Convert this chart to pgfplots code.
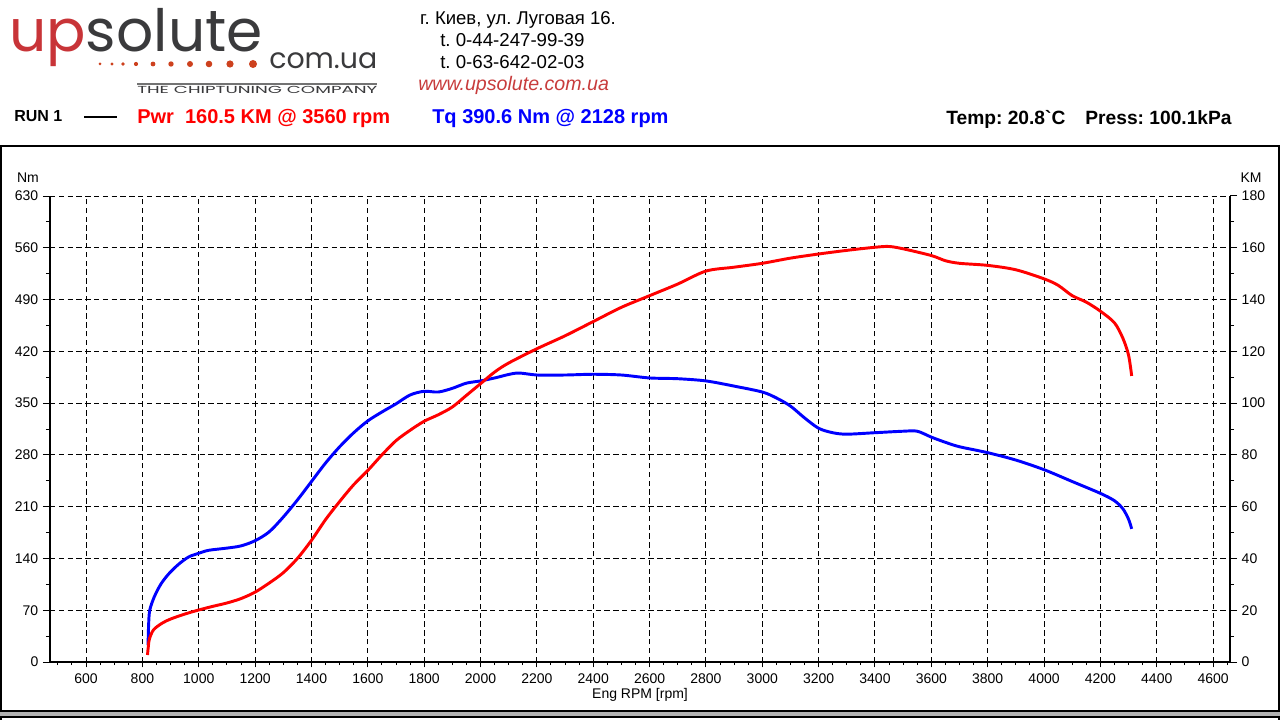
\documentclass[border=0pt]{standalone}
\usepackage{fontspec}
\setmainfont{Liberation Sans}
\newfontfamily\nomap{Liberation Sans}[Ligatures=ResetAll]
\newfontfamily\logofont{Poppins}
\usepackage{pgfplots}
\usepackage{pgfplotstable}
\pgfplotsset{compat=1.18}
\definecolor{logored}{RGB}{200,52,56}
\definecolor{logogray}{RGB}{58,58,60}
\definecolor{dotred}{RGB}{205,65,30}
\definecolor{wwwred}{RGB}{200,60,60}
\definecolor{pwrred}{RGB}{255,0,0}
\definecolor{tqblue}{RGB}{0,0,255}

\pgfplotstableread{
rpm nm
820 23
822 50
826 70
842 88
865 105
893 119
928 132
964 142
1000 147
1035 151
1100 154
1150 157
1200 164
1250 176
1300 196
1350 219
1400 244
1450 269
1500 291
1550 310
1600 326
1650 338
1700 349
1750 361
1800 366
1850 365
1900 370
1950 377
2000 380
2050 384
2128 390.6
2200 388
2300 388
2400 389
2500 388
2600 384
2700 383
2800 380
2900 373
3000 365
3050 357
3100 346
3150 330
3200 316
3250 310
3300 308
3400 310
3500 312
3550 312
3600 304
3650 297
3700 291
3800 283
3900 273
4000 260
4100 244
4200 228
4250 218
4280 207
4300 193
4311 180
}\torque

\pgfplotstableread{
rpm km
818 2.7
821 6
825 9
840 12.5
870 15
900 16.6
950 18.5
1000 20.1
1050 21.5
1100 22.8
1150 24.5
1200 27
1250 30.5
1300 34.5
1350 40
1400 47
1450 55
1500 62
1550 68.5
1600 74
1650 80
1700 85.5
1750 89.5
1800 93
1850 95.5
1900 98.5
1950 103
2000 107.5
2050 112
2100 115.5
2200 121
2300 126
2400 131.5
2500 137
2600 141.5
2700 146
2800 151
2900 152.5
3000 154
3100 156
3200 157.6
3300 159
3400 160.2
3450 160.5
3500 159.6
3600 157
3650 155
3700 154
3800 153.2
3900 151.5
4000 148
4050 145.5
4100 141.5
4150 139
4200 135.5
4250 131
4280 125
4300 118.5
4311 110.5
}\power

\pgfplotsset{dyno/.style={
  scale only axis, width=885pt, height=349.5pt,
  at={(37.5pt,-496.5pt)}, anchor=south west,
  xmin=472, xmax=4660,
  tick align=outside,
  axis line style={black, line width=0.9pt, -},
  every tick/.style={black, line width=0.75pt},
  ticklabel style={font=\fontsize{10.5}{12}\selectfont},
  /pgf/number format/assume math mode=true,
  /pgf/number format/set thousands separator={},
  grid style={black, line width=0.75pt, dash pattern=on 4pt off 2.6pt},
}}

\begin{document}
\frenchspacing
\begin{tikzpicture}
\begin{scope}[x=0.75pt,y=-0.75pt]
\useasboundingbox (0,0) rectangle (1280,720);
\fill[white] (0,0) rectangle (1280,720);
% frame
\draw[black, line width=1.2pt] (1,146) rectangle (1279,711);
\fill[black!30] (0,711.5) rectangle (1280,716);
\draw[black, line width=0.9pt] (1,720.5) -- (1,717) -- (1279,717) -- (1279,720.5);
% logo
\node[anchor=base west, inner sep=0pt] at (9,52)
  {\resizebox{190pt}{!}{\logofont\color{logored}up\color{logogray}solute}};
\node[anchor=base west, inner sep=0pt] at (269,69)
  {\resizebox{81pt}{!}{\logofont\color{logogray}com.ua}};
\foreach \xx/\rr in {100/1.5,112/1.7,123/1.9,136/2.1,153/2.4,171/2.7,190/3.0,209/3.3,230/3.6,253/4.0}
  \fill[dotred] (\xx,64) circle[radius=\rr*0.75pt];
\draw[black!55, line width=1.2pt] (137,84) -- (377,84);
\node[anchor=south west, inner sep=0pt] at (137,94)
  {\resizebox{180pt}{5.4pt}{\logofont\color{logogray}THE CHIPTUNING COMPANY}};
% address
\node[anchor=base, inner sep=0pt, font=\fontsize{13.9}{15}\selectfont] at (518,25) {г. Киев, ул. Луговая 16.};
\node[anchor=base west, inner sep=0pt, font=\fontsize{14}{15}\selectfont] at (440,47) {t. 0-44-247-99-39};
\node[anchor=base west, inner sep=0pt, font=\fontsize{14}{15}\selectfont] at (440,69) {t. 0-63-642-02-03};
\node[anchor=base west, inner sep=0pt, font=\fontsize{14.7}{16}\selectfont\itshape, text=wwwred] at (418,91) {www.upsolute.com.ua};
% run line
\node[anchor=base west, inner sep=0pt, font=\fontsize{12}{13}\selectfont\bfseries] at (14,122) {RUN 1};
\draw[black, line width=2.2pt] (84,117) -- (117,117);
\node[anchor=base west, inner sep=0pt, font=\fontsize{15}{17}\selectfont\bfseries, text=pwrred] at (137,124) {Pwr\ \ 160.5 KM @ 3560 rpm};
\node[anchor=base west, inner sep=0pt, font=\fontsize{15}{17}\selectfont\bfseries, text=tqblue] at (432,124) {Tq 390.6 Nm @ 2128 rpm};
\node[anchor=base west, inner sep=0pt, font=\fontsize{14.4}{16}\selectfont\bfseries] at (946,125) {Temp: 20.8{\nomap\bfseries`}C\hspace{15pt}Press: 100.1kPa};
% axis titles
\node[font=\fontsize{10.5}{12}\selectfont] at (28,178) {Nm};
\node[font=\fontsize{10.5}{12}\selectfont] at (1251,178) {KM};
\node[font=\fontsize{10.5}{12}\selectfont] at (640,695) {Eng RPM [rpm]};
\end{scope}

% x axis with vertical grid
\begin{axis}[dyno,
  ymin=0, ymax=630,
  axis x line*=bottom, axis y line=none,
  xtick={600,800,...,4600},
  minor xtick={500,550,...,4650},
  major tick length=4pt, minor tick length=2.4pt,
  xmajorgrids,
  xticklabel style={yshift=-1pt},
]
\end{axis}

% left torque axis
\begin{axis}[dyno,
  ymin=0, ymax=630,
  axis y line*=left, axis x line=none,
  ytick={0,70,...,630},
  minor ytick={35,105,...,595},
  major tick length=5.25pt, minor tick length=3pt,
  ymajorgrids,
]
\addplot[tqblue, line width=2.2pt, line join=round, smooth] table[x=rpm, y=nm] {\torque};
\end{axis}

% right power axis
\begin{axis}[dyno,
  ymin=0, ymax=180,
  axis y line*=right, axis x line=none,
  ytick={0,20,...,180},
  minor ytick={10,30,...,170},
  major tick length=5.25pt, minor tick length=3pt,
]
\addplot[pwrred, line width=2.2pt, line join=round, smooth] table[x=rpm, y=km] {\power};
\end{axis}
\end{tikzpicture}
\end{document}
